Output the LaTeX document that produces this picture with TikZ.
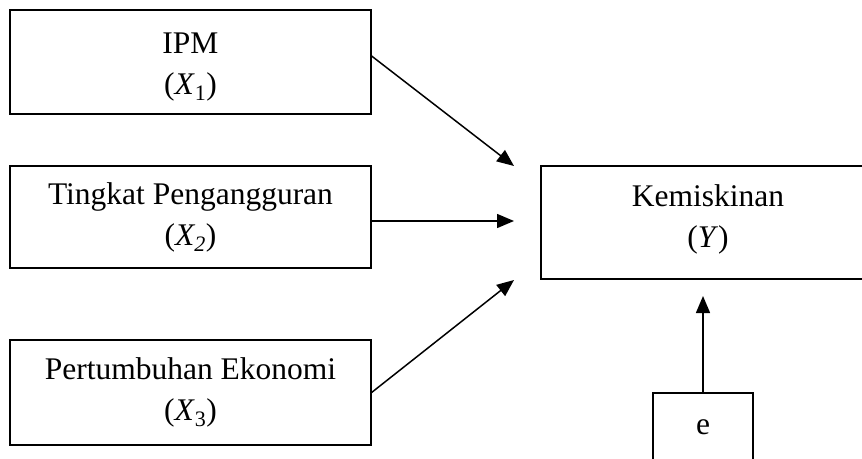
\documentclass[tikz,border=0pt]{standalone}
\usepackage{fontspec}
\setmainfont{Liberation Serif}
\usetikzlibrary{arrows.meta}
\tikzset{
	varbox/.style={draw, line width=1.2pt, inner sep=0pt, align=center, font=\fontsize{31.5}{41}\selectfont},
	panah/.style={line width=1.5pt, -{Triangle[length=17pt,width=14pt]}}
}

\begin{document}
\begin{tikzpicture}[x=1pt,y=-1pt]
		%%%%% START %%%%%
		
		\useasboundingbox (0,0) rectangle (862,458);
		\fill[white] (0,0) rectangle (862,458);
		\clip (0,0) rectangle (862,458);
		
		\node[varbox, minimum width=361pt, minimum height=104pt] (ipm) at (190.5,62) {\rule{0pt}{31pt}IPM\\(\textit{X}\textsubscript{1})};
		\node[varbox, minimum width=361pt, minimum height=102pt] (tpt) at (190.5,217) {Tingkat Pengangguran\\(\textit{X\textsubscript{2}})};
		\node[varbox, minimum width=361pt, minimum height=105pt] (pe) at (190.5,392.5) {Pertumbuhan Ekonomi\\(\textit{X}\textsubscript{3})};
		
		\node[varbox, minimum width=334pt, minimum height=113pt] (kem) at (708,222.5) {Kemiskinan\\(\textit{Y})\rule[-13pt]{0pt}{1pt}};
		\node[varbox, minimum width=100pt, minimum height=68pt] (e) at (703,427) {e};
		
		\coordinate (tip1) at (514,166);
		\coordinate (tip2) at (514,221);
		\coordinate (tip3) at (514,280);
		\coordinate (tip4) at (703,296);
		
		\draw[panah] ([yshift=6pt]ipm.east) -- (tip1);
		\draw[panah] ([yshift=-4pt]tpt.east) -- (tip2);
		\draw[panah] (pe.east) -- (tip3);
		\draw[panah] (e.north) -- (tip4);
		
		%%%%% END %%%%%
\end{tikzpicture}
\end{document}
